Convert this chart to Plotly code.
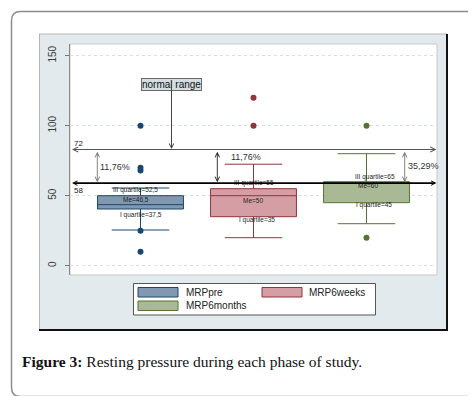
import plotly.graph_objects as go

# ---------------- data ----------------
groups = ["MRPpre", "MRP6weeks", "MRP6months"]
positions = [1, 2, 3]
q1 = [40.5, 35, 45]
median = [43.6, 50, 59.5]
q3 = [50, 55, 60]
lowerfence = [25.5, 20, 30]
upperfence = [55.5, 72.5, 80]
outliers_pre = [10, 25, 68, 70, 100]
outliers_6w = [100, 120]
outliers_6m = [20, 100]
outliers = [outliers_pre, outliers_6w, outliers_6m]
quartile_labels = [
    ["III quartile=52,5", "Me=46,5", "I quartile=37,5"],
    ["III quartile=55", "Me=50", "I quartile=35"],
    ["III quartile=65", "Me=60", "I quartile=45"],
]
ref_values = [83, 59]
ref_labels = ["72", "58"]
pct_labels = ["11,76%", "11,76%", "35,29%"]
yticks = [0, 50, 100, 150]

# ---------------- style ----------------
W, H = 476, 396
line_colors = ["#1a476f", "#90353b", "#55752f"]
fill_colors = ["#8198b2", "#d59ea4", "#a9b996"]
FONT = "Liberation Sans, Arial, sans-serif"

# pixel -> coordinate helpers (layout only)
PX_X0, PX_X1, PX_Y0, PX_Y1 = 62, 429, 36, 267
X_UNIT = 113.0
X_C1 = 132.5
def dx(px):
    return 1 + (px - X_C1) / X_UNIT
Y_ZERO, Y_UNIT = 257.7, 1.4
def dy(py):
    return (Y_ZERO - py) / Y_UNIT
def fx(px):
    return px / W
def fy(py):
    return 1 - py / H

xr = [dx(PX_X0), dx(PX_X1)]
yr = [dy(PX_Y1), dy(PX_Y0)]

fig = go.Figure()

for i, g in enumerate(groups):
    fig.add_trace(go.Box(
        x=[positions[i]], q1=[q1[i]], median=[median[i]], q3=[q3[i]],
        lowerfence=[lowerfence[i]], upperfence=[upperfence[i]],
        boxpoints=False, width=0.76, whiskerwidth=0.67,
        fillcolor=fill_colors[i], line=dict(color=line_colors[i], width=1),
        name=g, showlegend=False, hoverinfo="skip",
    ))
    fig.add_trace(go.Scatter(
        x=[positions[i]] * len(outliers[i]), y=outliers[i], mode="markers",
        marker=dict(size=6, color=line_colors[i]), showlegend=False,
        hoverinfo="skip",
    ))

shapes = []
def rect(x0, y0, x1, y1, fill, line_color=None, lw=0):
    shapes.append(dict(type="rect", xref="paper", yref="paper",
                       x0=fx(x0), x1=fx(x1), y0=fy(y1), y1=fy(y0),
                       fillcolor=fill, layer="below",
                       line=dict(color=line_color or fill, width=lw)))
def pline(x0, y0, x1, y1, color, lw=1):
    shapes.append(dict(type="line", xref="paper", yref="paper",
                       x0=fx(x0), x1=fx(x1), y0=fy(y0), y1=fy(y1),
                       layer="below", line=dict(color=color, width=lw)))

# outer rounded frame
r = 9
x0, y0, x1, y1 = 3.5, 3.5, 472.5, 388.5
path = (f"M {fx(x0+r)},{fy(y0)} L {fx(x1-r)},{fy(y0)} Q {fx(x1)},{fy(y0)} {fx(x1)},{fy(y0+r)} "
        f"L {fx(x1)},{fy(y1-r)} Q {fx(x1)},{fy(y1)} {fx(x1-r)},{fy(y1)} "
        f"L {fx(x0+r)},{fy(y1)} Q {fx(x0)},{fy(y1)} {fx(x0)},{fy(y1-r)} "
        f"L {fx(x0)},{fy(y0+r)} Q {fx(x0)},{fy(y0)} {fx(x0+r)},{fy(y0)} Z")
shapes.append(dict(type="path", xref="paper", yref="paper", path=path,
                   fillcolor="white", layer="below",
                   line=dict(color="#8c8c8c", width=1.5)))
# graph region
rect(31, 26, 439, 322, "#e2eaed")
pline(31, 26, 439, 26, "#b5b5b5", 1)
pline(31.5, 26, 31.5, 322, "#b5b5b5", 1)
pline(439, 26, 439, 323, "#111111", 2)
pline(31, 322, 440, 322, "#111111", 2)
# plot region
rect(PX_X0, PX_Y0, PX_X1, PX_Y1, "white", "#c8c8c8", 1)
# legend
rect(125.5, 275.5, 367.5, 307, "white", "#555555", 1)
sw = [(130, 279.5, 170, 289), (254, 279.5, 294, 289), (130, 293, 170, 302.5)]
leg_text_x = [176, 299, 176]
for i, (a, b, c, d) in enumerate(sw):
    shapes.append(dict(type="rect", xref="paper", yref="paper",
                       x0=fx(a), x1=fx(c), y0=fy(d), y1=fy(b),
                       fillcolor=fill_colors[i], layer="above",
                       line=dict(color=line_colors[i], width=1)))

annotations = []
# legend labels
for i, g in enumerate(groups):
    annotations.append(dict(xref="paper", yref="paper",
                            x=fx(leg_text_x[i]), y=fy((sw[i][1] + sw[i][3]) / 2),
                            text=g, showarrow=False, xanchor="left", yanchor="middle",
                            font=dict(family=FONT, size=10, color="#222222")))

# quartile labels (pixel placement)
label_px = [
    [(127, 182.3), (128, 191.5), (133, 206.7)],
    [(246, 175.3), (245, 192.3), (249, 211.7)],
    [(367, 168.7), (360, 177.3), (366, 197.3)],
]
for i in range(3):
    for j in range(3):
        px_, py_ = label_px[i][j]
        annotations.append(dict(x=dx(px_), y=dy(py_), text=quartile_labels[i][j],
                                showarrow=False, xanchor="center", yanchor="middle",
                                font=dict(family=FONT, size=6.5, color="#1e1e1e")))

# reference horizontal lines with arrowheads at both ends
ref_styles = [("#555555", 1.0, 1.0), ("#000000", 1.6, 0.55)]
for v, (c, w, s) in zip(ref_values, ref_styles):
    annotations.append(dict(x=xr[1] - 0.005, y=v, ax=xr[0] + 0.005, ay=v,
                            axref="x", ayref="y", text="", showarrow=True,
                            arrowhead=5, arrowside="end+start", arrowsize=s,
                            arrowwidth=w, arrowcolor=c, standoff=0, startstandoff=0))
ref_label_y = [135, 182.3]
for lab, py_ in zip(ref_labels, ref_label_y):
    annotations.append(dict(x=dx(64), y=dy(py_), text=lab, showarrow=False,
                            xanchor="left", yanchor="middle",
                            font=dict(family=FONT, size=8, color="#222222")))

# vertical double arrows and percentage labels
arrow_px = [89.3, 209.3, 396.7]
arrow_col = ["#777777", "#222222", "#777777"]
pct_px = [(107, 159), (237.5, 148.5), (415.5, 158)]
for k in range(3):
    annotations.append(dict(x=dx(arrow_px[k]), y=ref_values[1] + 0.6, ax=dx(arrow_px[k]),
                            ay=ref_values[0] - 0.6, axref="x", ayref="y", text="",
                            showarrow=True, arrowhead=5, arrowside="end+start",
                            arrowsize=1.0, arrowwidth=0.9, arrowcolor=arrow_col[k],
                            standoff=0, startstandoff=0))
    annotations.append(dict(x=dx(pct_px[k][0]), y=dy(pct_px[k][1]), text=pct_labels[k],
                            showarrow=False, xanchor="center", yanchor="middle",
                            font=dict(family=FONT, size=9, color="#333333")))

# "normal range" label
annotations.append(dict(x=dx(163.5), y=dy(76.2), text="normal range", showarrow=False,
                        xanchor="center", yanchor="middle", bgcolor="#d3dde2",
                        bordercolor="#6a6a6a", borderwidth=1, borderpad=0,
                        font=dict(family=FONT, size=10, color="#111111")))
annotations.append(dict(x=dx(163.5), y=ref_values[0] + 0.3, ax=dx(163.5), ay=dy(71.5),
                        axref="x", ayref="y", text="", showarrow=True, arrowhead=5,
                        arrowsize=0.9, arrowwidth=1, arrowcolor="#444444",
                        standoff=0, startstandoff=0))

# caption
annotations.append(dict(xref="paper", yref="paper", x=fx(12), y=fy(353),
                        text="<b>Figure 3:</b> Resting pressure during each phase of study.",
                        showarrow=False, xanchor="left", yanchor="middle",
                        font=dict(family="Liberation Serif, Times New Roman, serif",
                                  size=15.5, color="#111111")))

fig.update_layout(
    width=W, height=H, autosize=False,
    margin=dict(l=0, r=0, t=0, b=0),
    paper_bgcolor="white", plot_bgcolor="rgba(0,0,0,0)",
    shapes=shapes, annotations=annotations, showlegend=False,
    xaxis=dict(domain=[fx(PX_X0), fx(PX_X1)], range=xr, showgrid=False,
               zeroline=False, showticklabels=False, ticks="", showline=False,
               fixedrange=True),
    yaxis=dict(domain=[fy(PX_Y1), fy(PX_Y0)], range=yr, tickvals=yticks,
               ticktext=[str(t) for t in yticks], tickangle=-90,
               tickfont=dict(family=FONT, size=10, color="#3a3a3a"),
               ticks="outside", ticklen=4, tickcolor="#777777",
               ticklabelstandoff=5,
               showline=True, linecolor="#888888", linewidth=1,
               showgrid=True, gridcolor="#d3e0e5", griddash="dot", gridwidth=1,
               zeroline=False, fixedrange=True),
)

fig.write_html("out.html")
